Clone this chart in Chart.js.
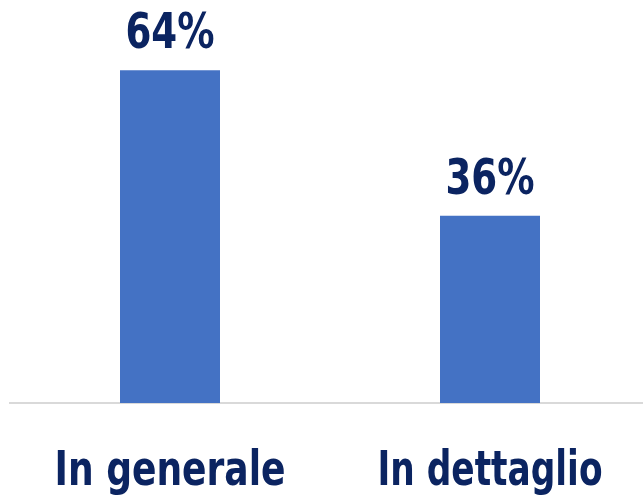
<!DOCTYPE html>
<html>
<head>
<meta charset="utf-8">
<script src="https://cdn.jsdelivr.net/npm/chart.js@4"></script>
<style>
html,body{margin:0;padding:0;background:#fff;overflow:hidden;}
#wrap{width:650px;height:495px;position:relative;}
</style>
</head>
<body>
<div id="wrap"><canvas id="c"></canvas></div>
<script>
const categories = ["In generale", "In dettaglio"];
const values = [64, 36];
const valueLabels = ["64%", "36%"];

const FONT = "'DejaVu Sans Condensed', 'DejaVu Sans', sans-serif";
const TEXT = "#0b2461";

function drawCondensed(ctx, text, x, y, targetWidth) {
  const w = ctx.measureText(text).width;
  const sx = targetWidth / w;
  ctx.save();
  ctx.translate(x, y);
  ctx.scale(sx, 1);
  ctx.fillText(text, 0, 0);
  ctx.restore();
}

const labelPlugin = {
  id: 'labels',
  afterDatasetsDraw(chart) {
    const ctx = chart.ctx;
    const meta = chart.getDatasetMeta(0);
    const xs = chart.scales.x;
    ctx.save();
    ctx.fillStyle = TEXT;
    ctx.textAlign = 'center';
    ctx.textBaseline = 'alphabetic';
    // value labels above bars
    ctx.font = "bold 49px " + FONT;
    meta.data.forEach((bar, i) => {
      drawCondensed(ctx, valueLabels[i], bar.x, bar.y - 22, 89);
    });
    // category labels under axis
    ctx.font = "bold 48px " + FONT;
    chart.data.labels.forEach((lab, i) => {
      const x = xs.getPixelForTick(i);
      drawCondensed(ctx, lab, x, xs.top + 82, i === 0 ? 231 : 225);
    });
    ctx.restore();
  }
};

new Chart(document.getElementById('c'), {
  type: 'bar',
  data: {
    labels: categories,
    datasets: [{
      data: values,
      backgroundColor: '#4472c4',
      borderWidth: 0,
      barPercentage: 0.3125,
      categoryPercentage: 1
    }]
  },
  options: {
    responsive: true,
    maintainAspectRatio: false,
    animation: false,
    layout: { padding: { left: 10, right: 0, top: 39, bottom: 0 } },
    plugins: { legend: { display: false }, tooltip: { enabled: false } },
    scales: {
      x: {
        grid: { display: false, drawTicks: false },
        border: { display: true, color: '#d9d9d9', width: 2 },
        ticks: { display: false },
        afterFit(scale) {
          scale.height = 92;
          scale.paddingLeft = 0;
          scale.paddingRight = 0;
        }
      },
      y: {
        display: false,
        min: 0,
        max: 70
      }
    }
  },
  plugins: [labelPlugin]
});
</script>
</body>
</html>
